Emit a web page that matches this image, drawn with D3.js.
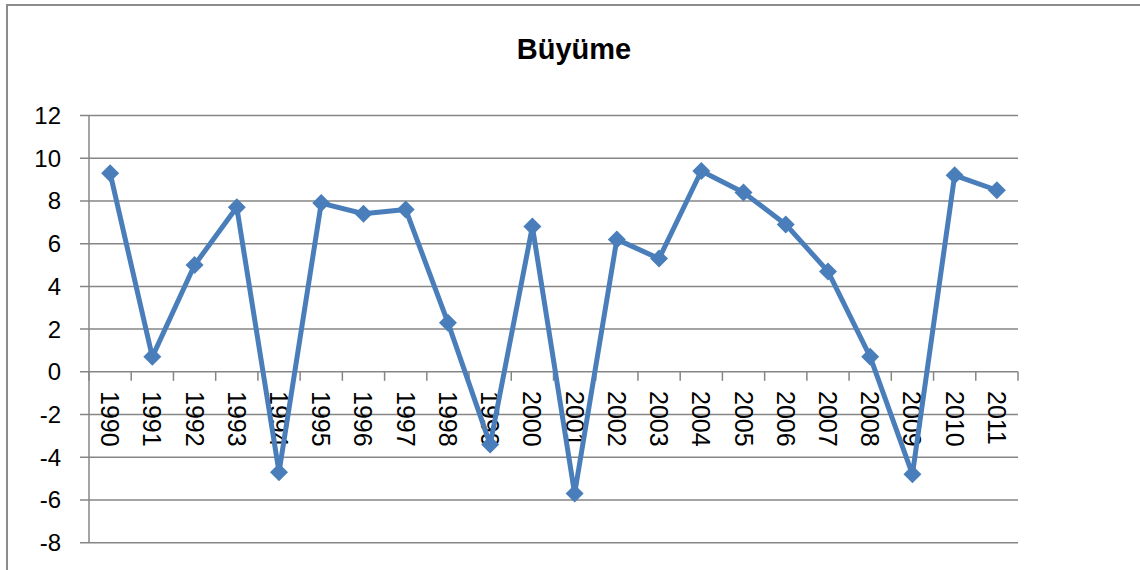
<!DOCTYPE html>
<html><head><meta charset="utf-8">
<script src="https://cdn.jsdelivr.net/npm/d3@7"></script>
<style>body{margin:0;background:#fff;}svg{display:block;font-family:"Liberation Sans",Arial,sans-serif;}</style>
</head><body>
<svg id="c" width="1140" height="570"></svg>
<script>
const years = ["1990","1991","1992","1993","1994","1995","1996","1997","1998","1999","2000","2001","2002","2003","2004","2005","2006","2007","2008","2009","2010","2011"];
const growth = [9.3,0.7,5.0,7.7,-4.7,7.9,7.4,7.6,2.3,-3.4,6.8,-5.7,6.2,5.3,9.4,8.4,6.9,4.7,0.7,-4.8,9.2,8.5];
const yTicks = [-8,-6,-4,-2,0,2,4,6,8,10,12];
const title = "Büyüme";

const svg = d3.select("#c");
const grid = "#868686";
// outer chart border
svg.append("rect").attr("x",7).attr("y",5).attr("width",1200).attr("height",700)
  .attr("fill","none").attr("stroke","#8c8c8c").attr("stroke-width",2);

const x = d3.scaleBand().domain(years).range([89,1018]);
const y = d3.scaleLinear().domain([-8,12]).range([542.7,115.5]);

// gridlines
svg.append("g").selectAll("line").data(yTicks).join("line")
  .attr("x1",80).attr("x2",1018).attr("y1",d=>y(d)).attr("y2",d=>y(d))
  .attr("stroke",grid).attr("stroke-width",1.5);
// y axis line
svg.append("line").attr("x1",89).attr("x2",89).attr("y1",y(12)).attr("y2",y(-8))
  .attr("stroke",grid).attr("stroke-width",1.5);
// y labels
svg.append("g").selectAll("text").data(yTicks).join("text")
  .attr("x",61).attr("y",d=>y(d)).attr("text-anchor","end").attr("dominant-baseline","central")
  .attr("font-size",24).attr("fill","#000").text(d=>d);

// category ticks on zero line
const bounds = years.map(d=>x(d)).concat([x.range()[1]]);
svg.append("g").selectAll("line").data(bounds).join("line")
  .attr("x1",d=>d).attr("x2",d=>d).attr("y1",y(0)).attr("y2",y(0)+9)
  .attr("stroke",grid).attr("stroke-width",1.5);
// category labels
svg.append("g").selectAll("text").data(years).join("text")
  .attr("transform",d=>`translate(${x(d)+x.bandwidth()/2},391) rotate(90)`)
  .attr("text-anchor","start").attr("dominant-baseline","central")
  .attr("font-size",25).attr("fill","#000").text(d=>d);

// title
svg.append("text").attr("x",574).attr("y",59).attr("text-anchor","middle")
  .attr("font-size",29).attr("font-weight","bold").attr("fill","#000").text(title);

// line
const cx = (d,i)=>x(years[i])+x.bandwidth()/2;
const line = d3.line().x((d,i)=>cx(d,i)).y(d=>y(d));
svg.append("path").datum(growth).attr("d",line).attr("fill","none")
  .attr("stroke","#4a7ebb").attr("stroke-width",5).attr("stroke-linejoin","round");
// markers
svg.append("g").selectAll("path").data(growth).join("path")
  .attr("transform",(d,i)=>`translate(${cx(d,i)},${y(d)})`)
  .attr("d","M0,-9L9,0L0,9L-9,0Z").attr("fill","#4a7ebb");
</script>
</body></html>
